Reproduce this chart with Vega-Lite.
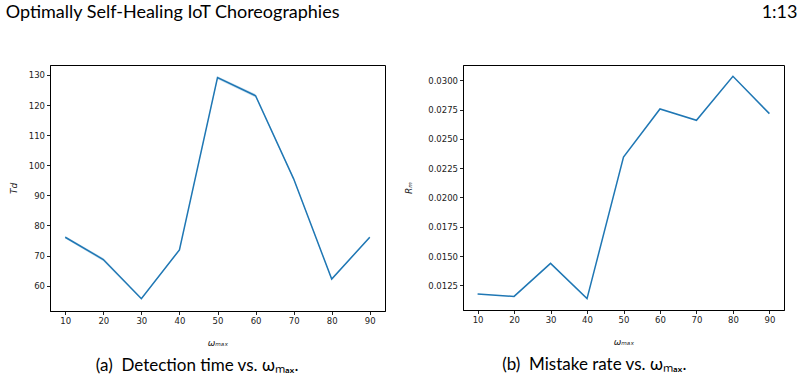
{
  "$schema": "https://vega.github.io/schema/vega-lite/v6.json",
  "background": "white",
  "padding": {"left": 5, "top": 3, "right": 5, "bottom": 0},
  "config": {
    "view": {"stroke": "black", "strokeWidth": 1},
    "axis": {
      "grid": false,
      "domainColor": "black",
      "tickColor": "#222",
      "tickSize": 3.5,
      "labelFont": "DejaVu Sans",
      "labelFontSize": 8.5,
      "labelColor": "#222",
      "labelPadding": 2,
      "titleFont": "DejaVu Sans",
      "titleFontSize": 9,
      "titleFontWeight": "normal",
      "titleFontStyle": "italic",
      "titleColor": "#222"
    },
    "title": {"font": "Lato", "fontSize": 18, "fontWeight": "normal", "color": "black"},
    "concat": {"spacing": 18}
  },
  "datasets": {
    "detection": [
      {"omega": 10, "td": 76.1, "lo": 75.7, "hi": 76.5},
      {"omega": 20, "td": 68.7, "lo": 68.1, "hi": 69.2},
      {"omega": 30, "td": 55.7, "lo": 55.3, "hi": 56.1},
      {"omega": 40, "td": 71.9, "lo": 71.6, "hi": 72.2},
      {"omega": 50, "td": 129.1, "lo": 128.6, "hi": 129.6},
      {"omega": 60, "td": 123.1, "lo": 122.5, "hi": 123.7},
      {"omega": 70, "td": 95.5, "lo": 95.1, "hi": 95.9},
      {"omega": 80, "td": 62.2, "lo": 61.9, "hi": 62.5},
      {"omega": 90, "td": 76.1, "lo": 75.8, "hi": 76.4}
    ],
    "mistakes": [
      {"omega": 10, "rm": 0.01177},
      {"omega": 20, "rm": 0.01156},
      {"omega": 30, "rm": 0.01438},
      {"omega": 40, "rm": 0.01137},
      {"omega": 50, "rm": 0.02344},
      {"omega": 60, "rm": 0.02755},
      {"omega": 70, "rm": 0.02658},
      {"omega": 80, "rm": 0.03034},
      {"omega": 90, "rm": 0.02715}
    ]
  },
  "hconcat": [
    {
      "title": {"text": "Optimally Self-Healing IoT Choreographies", "anchor": "start", "offset": 43, "dx": -3},
      "vconcat": [
        {
          "width": 335,
          "height": 246,
          "title": {"text": "(a)\u00a0 Detection time vs. ωₘₐₓ.", "orient": "bottom", "anchor": "middle", "frame": "bounds", "offset": 11, "fontSize": 17},
          "data": {"name": "detection"},
          "encoding": {
            "x": {
              "field": "omega", "type": "quantitative",
              "scale": {"domain": [6, 94], "nice": false, "zero": false},
              "axis": {"values": [10, 20, 30, 40, 50, 60, 70, 80, 90], "title": "ωₘₐₓ", "titlePadding": 13}
            }
          },
          "layer": [
            {
              "mark": {"type": "area", "color": "#1f77b4", "opacity": 0.2},
              "encoding": {
                "y": {
                  "field": "lo", "type": "quantitative",
                  "scale": {"domain": [51.6, 133.3], "nice": false, "zero": false},
                  "axis": {"values": [60, 70, 80, 90, 100, 110, 120, 130], "title": "Td", "titlePadding": 10}
                },
                "y2": {"field": "hi"}
              }
            },
            {
              "mark": {"type": "line", "color": "#1f77b4", "strokeWidth": 1.5},
              "encoding": {
                "y": {
                  "field": "td", "type": "quantitative",
                  "scale": {"domain": [51.6, 133.3], "nice": false, "zero": false},
                  "axis": {"values": [60, 70, 80, 90, 100, 110, 120, 130], "title": "Td", "titlePadding": 10}
                }
              }
            }
          ]
        }
      ]
    },
    {
      "title": {"text": "1:13", "anchor": "end", "offset": 43, "dx": 13},
      "vconcat": [
        {
          "width": 321,
          "height": 245,
          "title": {"text": "(b)\u00a0 Mistake rate vs. ωₘₐₓ.", "orient": "bottom", "anchor": "middle", "frame": "bounds", "offset": 11, "fontSize": 17},
          "data": {"name": "mistakes"},
          "mark": {"type": "line", "color": "#1f77b4", "strokeWidth": 1.5},
          "encoding": {
            "x": {
              "field": "omega", "type": "quantitative",
              "scale": {"domain": [6, 94], "nice": false, "zero": false},
              "axis": {"values": [10, 20, 30, 40, 50, 60, 70, 80, 90], "title": "ωₘₐₓ", "titlePadding": 13}
            },
            "y": {
              "field": "rm", "type": "quantitative",
              "scale": {"domain": [0.0104, 0.0313], "nice": false, "zero": false},
              "axis": {
                "values": [0.0125, 0.015, 0.0175, 0.02, 0.0225, 0.025, 0.0275, 0.03],
                "format": ".4f",
                "title": "Rₘ",
                "titlePadding": 14
              }
            }
          }
        }
      ]
    }
  ]
}
